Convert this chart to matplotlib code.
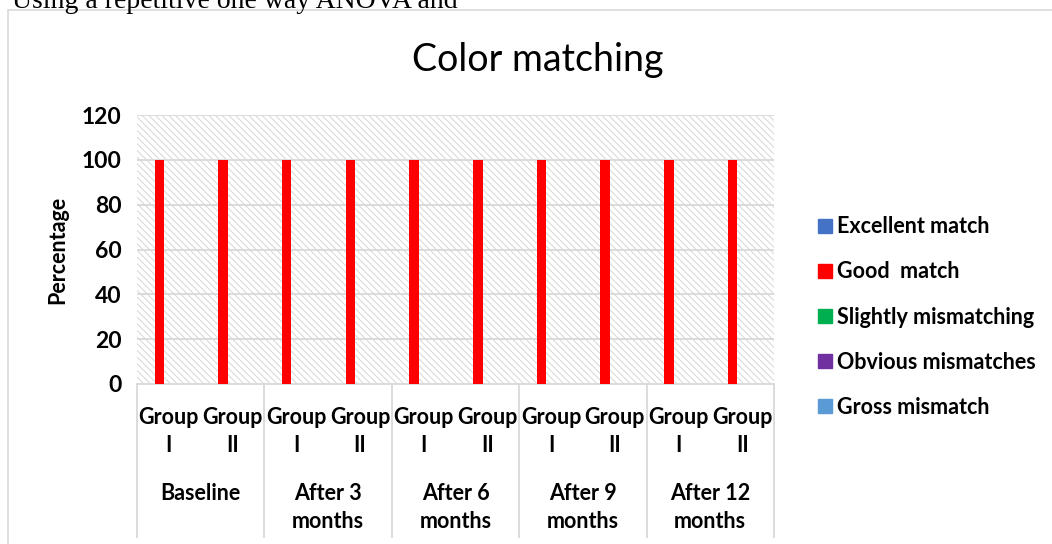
import numpy as np
import matplotlib.pyplot as plt
from matplotlib.patches import Rectangle
from matplotlib.lines import Line2D

# 数据
categories = ['Baseline', 'After 3\nmonths', 'After 6\nmonths', 'After 9\nmonths', 'After 12\nmonths']
groups = ['Group\nI', 'Group\nII']
series_names = ['Excellent match', 'Good  match', 'Slightly mismatching', 'Obvious mismatches', 'Gross mismatch']
excellent = [0, 0, 0, 0, 0, 0, 0, 0, 0, 0]
good = [100, 100, 100, 100, 100, 100, 100, 100, 100, 100]
slightly = [0, 0, 0, 0, 0, 0, 0, 0, 0, 0]
obvious = [0, 0, 0, 0, 0, 0, 0, 0, 0, 0]
gross = [0, 0, 0, 0, 0, 0, 0, 0, 0, 0]
yticks = [0, 20, 40, 60, 80, 100, 120]

colors = ['#4472C4', '#FF0000', '#00B050', '#7030A0', '#5B9BD5']
values = [excellent, good, slightly, obvious, gross]

plt.rcParams['font.family'] = ['Lato', 'DejaVu Sans']
plt.rcParams['hatch.linewidth'] = 0.7

W, H = 1052, 544
fig = plt.figure(figsize=(W / 100, H / 100), dpi=100)

# 外框和上方的正文
fig.patches.append(Rectangle((8 / W, -0.1), 2, (H - 10) / H + 0.1, transform=fig.transFigure,
                             fill=False, edgecolor='#d9d9d9', linewidth=1.2))
fig.text(12 / W, 1 - 2 / H, 'Using a repetitive one way ANOVA and', family='Liberation Serif',
         fontsize=20, va='center', ha='left')

ax = fig.add_axes([137 / W, (H - 384) / H, 637 / W, 269 / H])
ax.set_facecolor('white')
ax.add_patch(Rectangle((0, 0), 1, 1, transform=ax.transAxes, facecolor='white',
                       edgecolor='#d6d6d6', hatch='\\\\\\\\\\', linewidth=0, zorder=0))

x = np.arange(len(categories) * len(groups))
w = 0.15
handles = []
for i, (name, vals, c) in enumerate(zip(series_names, values, colors)):
    b = ax.bar(x + (i - 2) * w, vals, w, color=c, label=name, zorder=3)
    handles.append(Line2D([], [], marker='s', linestyle='none', markersize=10, color=c, label=name))

fs = 15.5
ax.set_xlim(-0.5, len(x) - 0.5)
ax.set_ylim(0, 120)
ax.set_yticks(yticks)
ax.set_yticklabels([str(t) for t in yticks], fontsize=fs + 1, fontweight='bold')
ax.tick_params(axis='y', length=0, pad=11)
ax.set_xticks([])
for t in yticks[1:]:
    ax.axhline(t, color='#d9d9d9', linewidth=1.3, zorder=1)
for s in ['top', 'right', 'left']:
    ax.spines[s].set_visible(False)
ax.spines['bottom'].set_color('#d9d9d9')
ax.spines['bottom'].set_linewidth(1.3)

ax.set_ylabel('Percentage', fontsize=fs, fontweight='bold', labelpad=10)

# 两级x轴标签
tr = ax.get_xaxis_transform()
for k in x:
    g = groups[k % 2].split('\n')
    ax.text(k, -34 / 269, g[0], transform=tr, ha='center', va='center', fontsize=fs, fontweight='bold')
    ax.text(k, -62 / 269, g[1], transform=tr, ha='center', va='center', fontsize=fs, fontweight='bold')
for j, cat in enumerate(categories):
    lines = cat.split('\n')
    cx = 2 * j + 0.5
    ax.text(cx, -109 / 269, lines[0], transform=tr, ha='center', va='center', fontsize=fs, fontweight='bold')
    if len(lines) > 1:
        ax.text(cx, -138 / 269, lines[1], transform=tr, ha='center', va='center', fontsize=fs, fontweight='bold')
for j in range(len(categories) + 1):
    ax.plot([2 * j - 0.5, 2 * j - 0.5], [0, -153 / 269], transform=tr, color='#d9d9d9',
            linewidth=1.3, clip_on=False)

fig.text(538 / W, 1 - 60 / H, 'Color matching', fontsize=27, ha='center', va='center')

fig.legend(handles=handles, loc='center left', bbox_to_anchor=(806 / W, 1 - 317 / H), frameon=False,
           prop={'size': fs, 'weight': 'bold'}, labelspacing=1.12, handletextpad=0.05, handlelength=1.0,
           borderaxespad=0)

fig.savefig('out.png', dpi=100)
